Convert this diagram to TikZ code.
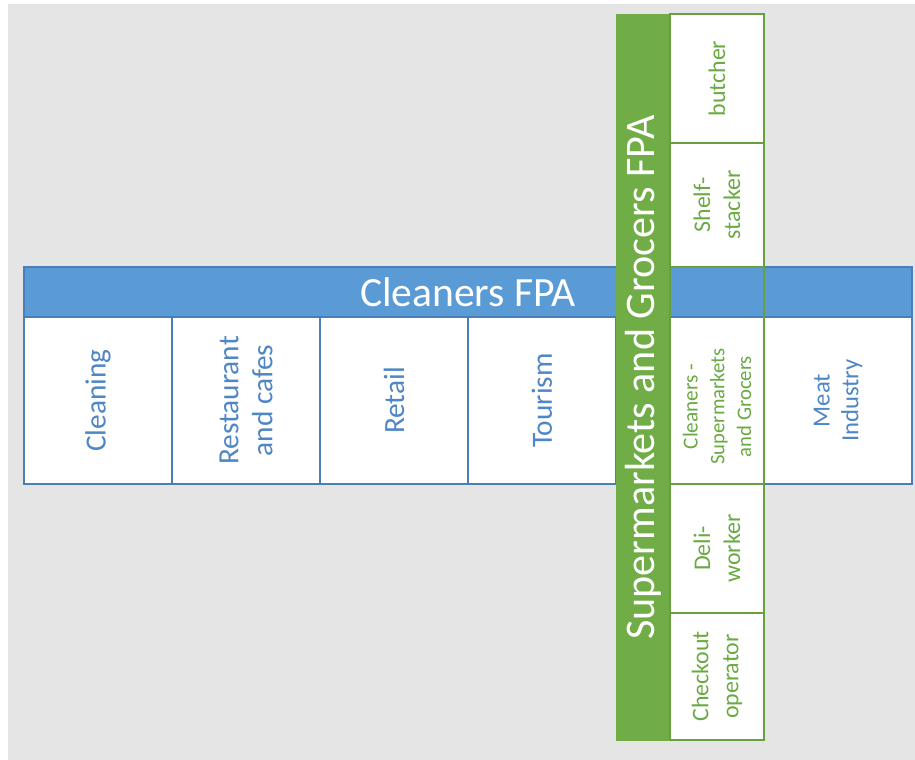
\documentclass[tikz,border=0pt]{standalone}
\usepackage{fontspec}
\setmainfont{Carlito}
\usetikzlibrary{positioning}

\definecolor{bggray}{HTML}{E5E5E5}
\definecolor{cblue}{HTML}{5B9BD5}
\definecolor{cblueline}{HTML}{4A7EBB}
\definecolor{cbluetext}{HTML}{4F86C4}
\definecolor{sgreen}{HTML}{70AD47}
\definecolor{sgreenline}{HTML}{68A040}
\definecolor{sgreentext}{HTML}{6AAA42}

\tikzset{
  fpahead/.style={draw=cblueline, fill=cblue, line width=1.5pt, outer sep=0pt, inner sep=0pt,
    minimum width=666pt, minimum height=37.5pt, text=white, font=\fontsize{31.2}{36}\selectfont},
  sector/.style={draw=cblueline, fill=white, line width=1.5pt, outer sep=0pt, inner sep=0pt,
    minimum width=111pt, minimum height=125.25pt},
  sectortxt/.style={rotate=90, align=center, text=cbluetext, font=\fontsize{22}{25.5}\selectfont},
  sgbar/.style={fill=sgreen, outer sep=0pt, inner sep=0pt, minimum width=40.5pt, minimum height=545.25pt},
  role/.style={draw=sgreenline, fill=white, line width=1.8pt, outer sep=0pt, inner sep=0pt,
    minimum width=70.5pt},
  roletxt/.style={rotate=90, align=center, text=sgreentext, font=\fontsize{17.9}{22.5}\selectfont},
}

\begin{document}
\begin{tikzpicture}[x=0.75pt, y=0.75pt]
    \useasboundingbox (0,0) rectangle (915,760);
    \fill[bggray] (8,0) rectangle (915,756);

    % Cleaners FPA
    \node[fpahead, anchor=north west] (cfpa) at (24,493) {Cleaners FPA};
    \node[sector, below right=0pt and 0pt of cfpa.south west] (cleaning) {};
    \node[sector, right=0pt of cleaning] (restaurant) {};
    \node[sector, right=0pt of restaurant] (retail) {};
    \node[sector, right=0pt of retail] (tourism) {};
    \node[sector, right=0pt of tourism] (cleansg) {};
    \node[sector, right=0pt of cleansg] (meat) {};

    \node[sectortxt] (cleaningtxt) at (cleaning) {Cleaning};
    \node[sectortxt] (restauranttxt) at (restaurant) {Restaurant\\and cafes};
    \node[sectortxt] (retailtxt) at (retail) {Retail};
    \node[sectortxt] (tourismtxt) at (tourism) {Tourism};
    \node[sectortxt, font=\fontsize{18.5}{21.5}\selectfont] (meattxt) at (meat) {Meat\\Industry};

    % Supermarkets and Grocers FPA
    \node[sgbar, anchor=north west] (sgfpa) at (616,746) {};
    \node[rotate=90, text=white, font=\fontsize{31.6}{36}\selectfont] (sgtitle) at (sgfpa)
    {Supermarkets and Grocers FPA};

    \node[role, minimum height=96.75pt, below right=0pt and 0pt of sgfpa.north east] (butcher) {};
    \node[role, minimum height=93pt, below=0pt of butcher] (shelf) {};
    \node[role, minimum height=162.75pt, fill=none, below=0pt of shelf] (sgclean) {};
    \node[role, minimum height=96.75pt, below=0pt of sgclean] (deli) {};
    \node[role, minimum height=95.25pt, below=0pt of deli] (checkout) {};

    \node[roletxt] (butchertxt) at (butcher) {butcher};
    \node[roletxt] (shelftxt) at (shelf) {Shelf-\\stacker};
    \node[roletxt, font=\fontsize{15.5}{20}\selectfont, xshift=-4.5pt] (sgcleantxt) at (sgclean |- cleansg)
    {{\fontsize{16}{20}\selectfont Cleaners -}\\Supermarkets\\and Grocers};
    \node[roletxt] (delitxt) at (deli) {Deli-\\worker};
    \node[roletxt] (checkouttxt) at (checkout) {Checkout\\operator};
\end{tikzpicture}
\end{document}
